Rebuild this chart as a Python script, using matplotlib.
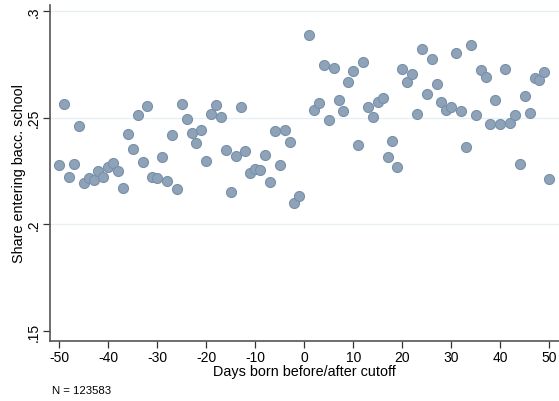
import matplotlib
matplotlib.use("Agg")
import matplotlib.pyplot as plt

plt.rcParams['font.family'] = ['Liberation Sans', 'DejaVu Sans']

days = list(range(-50, 0)) + list(range(1, 51))
share = [
    0.2280, 0.2565, 0.2222, 0.2284, 0.2463, 0.2195, 0.2217, 0.2210, 0.2249, 0.2220,
    0.2267, 0.2286, 0.2252, 0.2171, 0.2425, 0.2352, 0.2511, 0.2293, 0.2554, 0.2222,
    0.2217, 0.2316, 0.2201, 0.2417, 0.2168, 0.2565, 0.2495, 0.2427, 0.2381, 0.2441,
    0.2298, 0.2517, 0.2559, 0.2501, 0.2350, 0.2154, 0.2322, 0.2549, 0.2346, 0.2241,
    0.2260, 0.2257, 0.2327, 0.2198, 0.2436, 0.2276, 0.2440, 0.2384, 0.2098, 0.2135,
    0.2886, 0.2535, 0.2570, 0.2749, 0.2490, 0.2733, 0.2584, 0.2530, 0.2665, 0.2719,
    0.2371, 0.2759, 0.2549, 0.2501, 0.2574, 0.2590, 0.2317, 0.2389, 0.2271, 0.2727,
    0.2668, 0.2705, 0.2519, 0.2820, 0.2612, 0.2773, 0.2660, 0.2573, 0.2535, 0.2552,
    0.2805, 0.2530, 0.2363, 0.2840, 0.2514, 0.2725, 0.2690, 0.2471, 0.2581, 0.2470,
    0.2727, 0.2475, 0.2511, 0.2283, 0.2601, 0.2524, 0.2688, 0.2675, 0.2716, 0.2215,
]
xticks = [-50, -40, -30, -20, -10, 0, 10, 20, 30, 40, 50]
yticks = [0.15, 0.2, 0.25, 0.3]
ytick_labels = ['.15', '.2', '.25', '.3']

fig = plt.figure(figsize=(5.59, 4.02), dpi=100)
ax = fig.add_axes([50/559, 1 - 341.7/402, 1 - 50/559, (341.7 - 6)/402])

for y in [0.2, 0.25, 0.3]:
    ax.axhline(y, color='#e6eff1', lw=0.9, zorder=0)

ax.scatter(days, share, s=52, facecolor='#8fa3b8', edgecolor='#7890a9', linewidth=0.8, zorder=3)

ax.set_xlim(-51.9, 52.0)
ax.set_ylim(0.1455, 0.3028)
ax.set_xticks(xticks)
ax.set_xticklabels([str(t) for t in xticks], fontsize=10)
ax.set_yticks(yticks)
ax.set_yticklabels(ytick_labels, fontsize=10, rotation=90, va='center')
ax.tick_params(axis='both', direction='out', length=5, width=0.9, color='#333333', pad=2)

for s in ['top', 'right']:
    ax.spines[s].set_visible(False)
for s in ['left', 'bottom']:
    ax.spines[s].set_color('#555555')
    ax.spines[s].set_linewidth(1.2)

ax.set_xlabel('Days born before/after cutoff', fontsize=10.4, labelpad=0)
ax.set_ylabel('Share entering bacc. school', fontsize=10.4, labelpad=0.5)

fig.text(52/559, 1 - 391/402, 'N = 123583', fontsize=8.2, ha='left', va='center')

fig.savefig('out.png', dpi=100)
